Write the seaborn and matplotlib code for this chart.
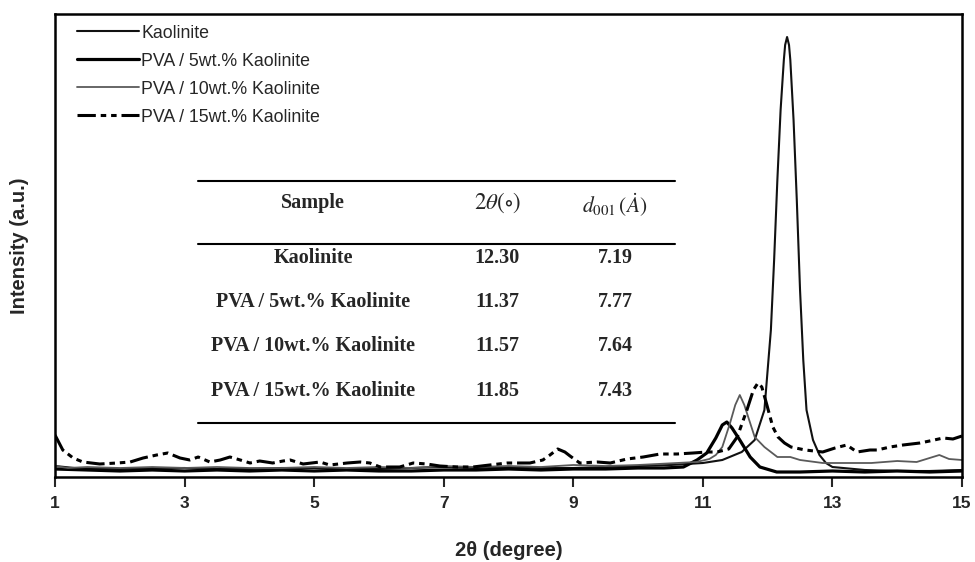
import numpy as np
import pandas as pd
import matplotlib
matplotlib.use("Agg")
import matplotlib.pyplot as plt
from matplotlib.lines import Line2D
import seaborn as sns

# ---- XRD traces (2theta in degrees, intensity in a.u.) ----
kaolinite_2t = [1.0, 1.3, 2.0, 2.5, 3.0, 3.5, 4.0, 4.5, 5.0, 5.5, 6.0, 6.5, 7.0, 7.5, 8.0,
                8.5, 9.0, 9.5, 10.0, 10.5, 11.0, 11.3, 11.6, 11.8, 11.95, 12.05, 12.10,
                12.15, 12.20, 12.25, 12.27, 12.30, 12.33, 12.35, 12.40, 12.45, 12.50, 12.55,
                12.60, 12.70, 12.80, 12.90, 13.0, 13.5, 14.0, 14.5, 15.0]
kaolinite_int = [110, 90, 80, 90, 90, 80, 80, 90, 90, 80, 80, 90, 100, 90, 100,
                 90, 90, 100, 110, 120, 140, 170, 250, 370, 670, 1470, 2170,
                 2970, 3670, 4170, 4320, 4400, 4320, 4170, 3570, 2770, 1870, 1170,
                 670, 370, 220, 140, 100, 70, 60, 60, 70]

pva5_2t = [1.0, 1.5, 2.0, 2.5, 3.0, 3.5, 4.0, 4.5, 5.0, 5.5, 6.0, 6.5, 7.0, 7.5, 8.0,
           8.5, 9.0, 9.5, 10.0, 10.4, 10.7, 10.91, 11.06, 11.2, 11.3, 11.37, 11.45,
           11.57, 11.73, 11.88, 12.14, 12.5, 13.0, 13.5, 14.0, 14.5, 15.0]
pva5_int = [80, 70, 60, 70, 60, 70, 60, 70, 60, 70, 60, 60, 70, 70, 80,
            70, 80, 80, 90, 90, 100, 170, 240, 390, 520, 550, 490,
            370, 200, 100, 50, 50, 60, 50, 60, 50, 60]

pva10_2t = [1.0, 1.2, 1.5, 2.0, 2.5, 3.0, 3.5, 4.0, 4.5, 5.0, 5.5, 6.0, 6.5, 7.0, 7.5,
            8.0, 8.5, 9.0, 9.5, 10.0, 10.3, 10.6, 10.9, 11.1, 11.2, 11.3, 11.42, 11.50,
            11.57, 11.64, 11.70, 11.80, 11.95, 12.15, 12.35, 12.5, 12.85, 13.2, 13.6,
            14.0, 14.3, 14.5, 14.65, 14.8, 15.0]
pva10_int = [110, 90, 100, 90, 100, 90, 100, 90, 90, 100, 90, 100, 90, 110, 100,
             110, 100, 120, 110, 120, 130, 140, 150, 180, 220, 300, 540, 720,
             820, 720, 600, 400, 300, 200, 200, 170, 140, 140, 140,
             160, 150, 190, 220, 180, 170]

pva15_2t = [1.00, 1.12, 1.28, 1.43, 1.69, 1.96, 2.16, 2.36, 2.57, 2.74, 2.93, 3.08, 3.21,
            3.39, 3.55, 3.70, 3.86, 4.01, 4.16, 4.36, 4.52, 4.63, 4.83, 5.09, 5.24, 5.51,
            5.71, 5.86, 6.02, 6.17, 6.32, 6.53, 6.74, 6.94, 7.20, 7.45, 7.71, 7.98, 8.18,
            8.33, 8.53, 8.64, 8.76, 8.87, 8.95, 9.10, 9.37, 9.57, 9.83, 10.08, 10.34,
            10.60, 10.85, 11.06, 11.22, 11.40, 11.53, 11.68, 11.78, 11.85, 11.91, 11.98,
            12.08, 12.16, 12.26, 12.36, 12.58, 12.85, 13.04, 13.22, 13.38, 13.58, 13.69,
            13.89, 14.09, 14.35, 14.50, 14.71, 14.86, 15.00]
pva15_int = [420, 270, 190, 150, 130, 140, 150, 190, 220, 240, 190, 170, 200,
             150, 170, 200, 170, 140, 160, 140, 160, 170, 130, 150, 120, 140,
             150, 140, 100, 100, 100, 140, 130, 110, 100, 100, 120, 140, 140,
             140, 170, 220, 280, 250, 210, 140, 150, 140, 180, 200, 230,
             230, 240, 250, 250, 280, 400, 670, 870, 940, 900, 740,
             500, 400, 340, 300, 270, 250, 290, 320, 250, 270, 270,
             300, 320, 340, 360, 390, 380, 410]

series_labels = ["Kaolinite", "PVA / 5wt.% Kaolinite",
                 "PVA / 10wt.% Kaolinite", "PVA / 15wt.% Kaolinite"]

# ---- summary table ----
table_samples = ["Kaolinite", "PVA / 5wt.% Kaolinite",
                 "PVA / 10wt.% Kaolinite", "PVA / 15wt.% Kaolinite"]
table_2theta = ["12.30", "11.37", "11.57", "11.85"]
table_d001 = ["7.19", "7.77", "7.64", "7.43"]

xticks = [1, 3, 5, 7, 9, 11, 13, 15]

sns.set_style("white")
plt.rcParams["font.family"] = ["Liberation Sans", "DejaVu Sans"]
plt.rcParams["mathtext.fontset"] = "stix"

fig = plt.figure(figsize=(9.75, 5.62), dpi=100)
ax = fig.add_axes([55 / 975, 1 - 477 / 562, (962 - 55) / 975, (477 - 14) / 562])

styles = [
    dict(color="#111111", linewidth=1.5, linestyle="-"),
    dict(color="#000000", linewidth=2.3, linestyle="-"),
    dict(color="#5a5a5a", linewidth=1.3, linestyle="-"),
    dict(color="#000000", linewidth=2.2, linestyle=(0, (6, 1.6, 1.8, 1.6, 1.8, 1.6))),
]
data = [(kaolinite_2t, kaolinite_int), (pva5_2t, pva5_int),
        (pva10_2t, pva10_int), (pva15_2t, pva15_int)]

handles = []
for (xs, ys), lab, st in zip(data, series_labels, styles):
    df = pd.DataFrame({"two_theta": xs, "intensity": ys})
    sns.lineplot(data=df, x="two_theta", y="intensity", ax=ax, color=st["color"],
                 linewidth=st["linewidth"], legend=False)
    ax.lines[-1].set_linestyle(st["linestyle"])
    handles.append(Line2D([], [], color=st["color"], linewidth=st["linewidth"],
                          linestyle=st["linestyle"], label=lab))

ax.set_xlim(1, 15)
ax.set_ylim(0, 4630)
ax.set_xticks(xticks)
ax.set_xticklabels([str(t) for t in xticks], fontweight="bold", fontsize=12.5)
ax.set_yticks([])
ax.tick_params(axis="x", direction="out", length=7, width=1.5, pad=7, bottom=True)
for sp in ax.spines.values():
    sp.set_visible(True)
    sp.set_color("black")
    sp.set_linewidth(1.8)

ax.set_xlabel("2θ (degree)", fontweight="bold", fontsize=14.5, labelpad=21)
ax.set_ylabel("Intensity (a.u.)", fontweight="bold", fontsize=14.5, labelpad=19)

leg = ax.legend(handles=handles, loc="upper left", frameon=False, fontsize=12.8,
                handlelength=3.5, handletextpad=0.12, labelspacing=0.62,
                borderaxespad=0.0, borderpad=0.0, bbox_to_anchor=(0.024, 0.977))

# ---- table drawn inside the axes (axes-fraction coordinates) ----
def ax_x(px):
    return (px - 55) / (962 - 55)

def ax_y(py):
    return (477 - py) / (477 - 14)

for py in (181, 244, 423):
    ax.plot([ax_x(198), ax_x(675)], [ax_y(py), ax_y(py)], transform=ax.transAxes,
            color="black", linewidth=1.5)

serif = ["Liberation Serif", "DejaVu Serif"]
col_x = [ax_x(313), ax_x(497), ax_x(615)]
ax.text(col_x[0], ax_y(203), "Sample", transform=ax.transAxes, ha="center", va="center",
        family=serif, fontweight="bold", fontsize=14.5)
ax.text(col_x[1], ax_y(203), r"$2\theta(\circ)$", transform=ax.transAxes, ha="center",
        va="center", fontsize=16.5)
ax.text(col_x[2], ax_y(205), r"$d_{001}\,(\dot{A})$", transform=ax.transAxes, ha="center",
        va="center", fontsize=15.5)
row_y = [258, 302, 346, 391]
for s, t, d, py in zip(table_samples, table_2theta, table_d001, row_y):
    for cx, txt in zip(col_x, (s, t, d)):
        ax.text(cx, ax_y(py), txt, transform=ax.transAxes, ha="center", va="center",
                family=serif, fontweight="bold", fontsize=14.5)

fig.savefig("out.png", dpi=100)
